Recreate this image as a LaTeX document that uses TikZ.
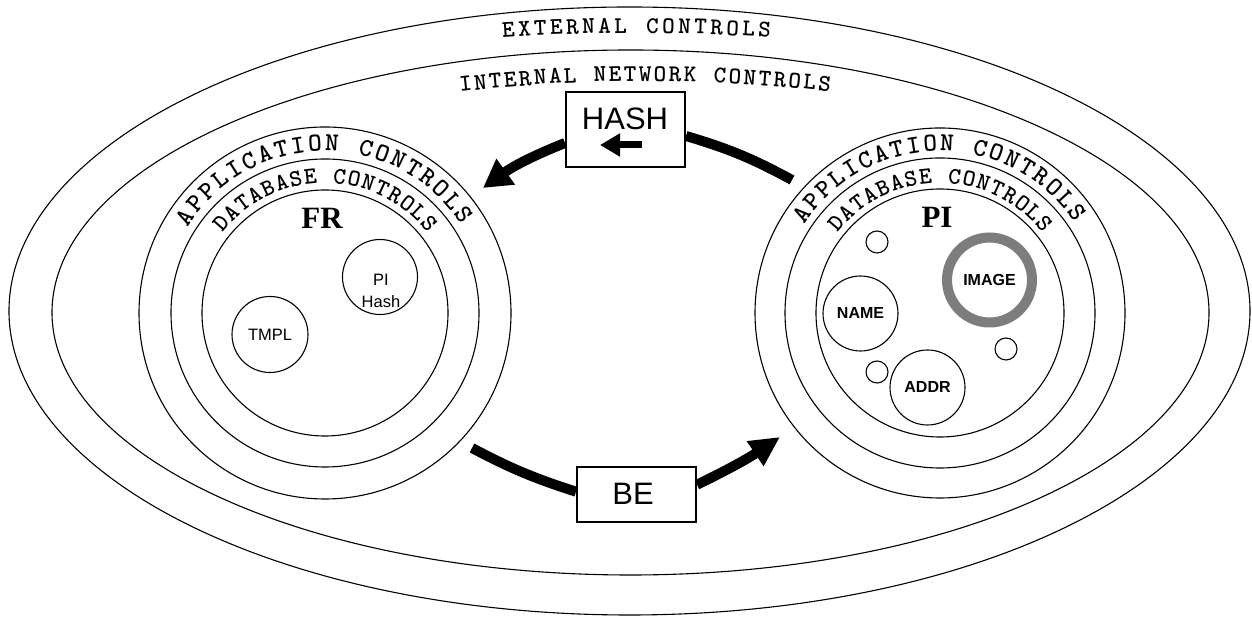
\documentclass[tikz,border=0pt]{standalone}
\usepackage{fontspec}
\setmainfont{Liberation Sans}
\newfontfamily\seriffnt{Liberation Serif}
\usetikzlibrary{arrows.meta,decorations.text}
\definecolor{ringgray}{RGB}{125,125,125}
\newcommand\xAppFont{\ttfamily\bfseries\fontsize{26}{26}\selectfont}
\newcommand\xDbFont{\ttfamily\bfseries\fontsize{24}{24}\selectfont}
\newcommand\xExtFont{\ttfamily\bfseries\fontsize{24}{24}\selectfont}
\newcommand\xIntFont{\ttfamily\bfseries\fontsize{24}{24}\selectfont}
\begin{document}
\begin{tikzpicture}[x=1pt,y=1pt,
  thinln/.style={line width=1.1pt},
  ring/.style={draw, circle, line width=1.1pt, inner sep=0pt},
  lblb/.style={font=\fontsize{16}{17}\selectfont\bfseries},
  lblr/.style={font=\fontsize{16.5}{17}\selectfont},
  title/.style={font=\seriffnt\bfseries\fontsize{31}{31}\selectfont, inner sep=0pt},
  boxnode/.style={draw, line width=2pt, inner sep=0pt},
  boxtxt/.style={font=\fontsize{31}{31}\selectfont, inner sep=0pt},
  fat/.style={line width=10pt},
  curvetext/.style={decorate, decoration={text along path, text align={fit to path}, text={#1}}}
]
\useasboundingbox (0,0) rectangle (1252,617);
\fill[white] (0,0) rectangle (1252,617);

% outer ellipses
\draw[thinln] (629.5,306) ellipse[x radius=620.5, y radius=304];
\draw[thinln] (630.5,304.5) ellipse[x radius=578.5, y radius=262.5];

% concentric circles
\coordinate (L) at (325,304);
\coordinate (R) at (940,304);
\foreach \r in {186,154,123} {\draw[thinln] (L) circle[radius=\r];}
\foreach \r in {185,155,124} {\draw[thinln] (R) circle[radius=\r];}

% curved texts
\path[curvetext={|\xExtFont|EXTERNAL CONTROLS}]
  ([shift={(93.84:2000)}]636.5,-1416) arc[start angle=93.84, end angle=86.16, radius=2000];
\path[curvetext={|\xIntFont|INTERNAL NETWORK CONTROLS}]
  ([shift={(96.64:1600)}]645,-1064) arc[start angle=96.64, end angle=83.36, radius=1600];
\path[curvetext={|\xAppFont|APPLICATION CONTROLS}]
  ([shift={(148:162)}]L) arc[start angle=148, end angle=33, radius=162];
\path[curvetext={|\xDbFont|DATABASE CONTROLS}]
  ([shift={(142:130)}]L) arc[start angle=142, end angle=38, radius=130];
\path[curvetext={|\xAppFont|APPLICATION CONTROLS}]
  ([shift={(147:162)}]R) arc[start angle=147, end angle=34, radius=162];
\path[curvetext={|\xDbFont|DATABASE CONTROLS}]
  ([shift={(142:130)}]R) arc[start angle=142, end angle=38, radius=130];

% titles
\node[title] (fr) at (322,399) {FR};
\node[title] (pi) at (937,400) {PI};

% left inner circles
\node[ring, minimum size=75pt] (pihash) at (380,340) {};
\node[align=center, inner sep=0pt, font=\fontsize{16.5}{22}\selectfont] (pihashtxt) at (381,326) {PI\\Hash};
\node[ring, minimum size=76pt, lblr] (tmpl) at (270,282.5) {TMPL};

% right inner circles
\node[ring, minimum size=22pt] (s1) at (877,375) {};
\node[ring, minimum size=22pt] (s2) at (1006,268) {};
\node[ring, minimum size=22pt] (s3) at (877,245) {};
\node[draw=ringgray, circle, line width=10pt, minimum size=85pt, inner sep=0pt, lblb] (image) at (989.5,337) {IMAGE};
\node[ring, minimum size=75pt, lblb] (name) at (860.5,303.5) {NAME};
\node[ring, minimum size=75pt, lblb] (addr) at (927.5,229.5) {ADDR};

% boxes
\node[boxnode, minimum width=119pt, minimum height=75pt] (hash) at (625.5,487.5) {};
\node[boxtxt] (hashtxt) at (625,498.5) {HASH};
\coordinate (ha1) at (642,472);
\coordinate (ha2) at (600,472);
\draw[line width=7pt, -{Triangle[length=20pt,width=22pt]}] (ha1) -- (ha2);

\node[boxnode, minimum width=119pt, minimum height=55pt] (be) at (636.5,122.8) {};
\node[boxtxt] (betxt) at (633,123) {BE};

% thick arrows
\coordinate (hs) at (792,437);
\coordinate (ht) at (483,429);
\coordinate (bs) at (472,169);
\coordinate (bt) at (780,180);
\draw[fat] (hs) to[bend right=6] ([yshift=-6.5pt]hash.east);
\draw[fat, -{Triangle[length=28pt,width=30pt]}] ([yshift=-13.5pt]hash.west) to[bend right=7] (ht);
\draw[fat] (bs) to[bend right=5] ([yshift=2.5pt]be.west);
\draw[fat, -{Triangle[length=30pt,width=28pt]}] ([yshift=9.5pt]be.east) to[bend right=4] (bt);
\end{tikzpicture}
\end{document}
